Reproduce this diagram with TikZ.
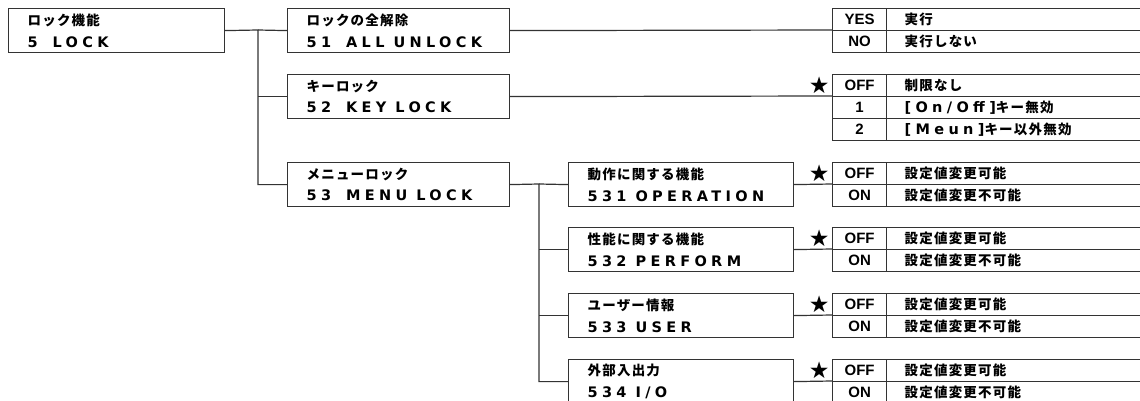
\documentclass[tikz,border=0pt]{standalone}
\usepackage{fontspec}
\usetikzlibrary{positioning}
\newfontfamily\jpfont{Noto Sans CJK JP}[LetterSpace=9]
\newfontfamily\codefont{DejaVu Sans}[LetterSpace=30]
\newfontfamily\keyfont{Liberation Sans}
\newfontfamily\symfont{DejaVu Sans}
\newcommand{\jp}{\fontsize{13.5}{21.5}\selectfont\jpfont\bfseries}
\newcommand{\code}{\fontsize{14.5}{21.5}\selectfont\codefont\bfseries\spaceskip=9pt}
\newcommand{\keyf}{\fontsize{15}{16}\selectfont\keyfont\bfseries}
\newcommand{\gap}{\hspace{6pt}}

\begin{document}
\begin{tikzpicture}[x=1pt,y=-1pt,line width=1.2pt,
  box/.style={draw=black!80,anchor=north west,minimum height=44,inner xsep=19,inner ysep=0,align=left,font=\jp},
  key/.style={draw=black!80,anchor=north west,minimum width=54,minimum height=22,inner sep=0,font=\keyf},
  val/.style={draw=black!80,anchor=north west,minimum height=22,inner xsep=18,inner ysep=0,text width=240,align=left,font=\jp},
  starmark/.style={inner sep=0,font=\fontsize{23}{23}\selectfont\symfont},
  wire/.style={draw=black!80}]
  \useasboundingbox (0,0) rectangle (1140,401);
  \clip (0,0) rectangle (1140,401);
  % menu boxes
  \node[box,text width=178] (lock) at (8,8) {ロック機能\\{\code 5\gap{} LOCK}};
  \node[box,text width=184] (unlock) at (287,8) {ロックの全解除\\{\code 51\gap{} ALL UNLOCK}};
  \node[box,text width=184] (keylock) at (287,74) {キーロック\\{\code 52\gap{} KEY LOCK}};
  \node[box,text width=184] (menulock) at (287,162) {メニューロック\\{\code 53\gap{} MENU LOCK}};
  \node[box,text width=187] (oper) at (568,162) {動作に関する機能\\{\code 531 OPERATION}};
  \node[box,text width=187] (perf) at (568,227) {性能に関する機能\\{\code 532 PERFORM}};
  \node[box,text width=187] (user) at (568,293) {ユーザー情報\\{\code 533 USER}};
  \node[box,text width=187] (io) at (568,359) {外部入出力\\{\code 534 I/O}};
  % settings tables
  \node[key] (unlockyes) at (832,8) {YES};
  \node[val] (unlockyesv) at (886,8) {実行};
  \node[key] (unlockno) at (832,30) {NO};
  \node[val] (unlocknov) at (886,30) {実行しない};
  \node[key] (keyoff) at (832,74) {OFF};
  \node[val] (keyoffv) at (886,74) {制限なし};
  \node[key] (keyone) at (832,96) {1};
  \node[val] (keyonev) at (886,96) {{\code [On/Off]}キー無効};
  \node[key] (keytwo) at (832,118) {2};
  \node[val] (keytwov) at (886,118) {{\code [Meun]}キー以外無効};
  \node[key] (operoff) at (832,162) {OFF};
  \node[val] (operoffv) at (886,162) {設定値変更可能};
  \node[key] (operon) at (832,184) {ON};
  \node[val] (operonv) at (886,184) {設定値変更不可能};
  \node[key] (perfoff) at (832,227) {OFF};
  \node[val] (perfoffv) at (886,227) {設定値変更可能};
  \node[key] (perfon) at (832,249) {ON};
  \node[val] (perfonv) at (886,249) {設定値変更不可能};
  \node[key] (useroff) at (832,293) {OFF};
  \node[val] (useroffv) at (886,293) {設定値変更可能};
  \node[key] (useron) at (832,315) {ON};
  \node[val] (useronv) at (886,315) {設定値変更不可能};
  \node[key] (iooff) at (832,359) {OFF};
  \node[val] (iooffv) at (886,359) {設定値変更可能};
  \node[key] (ioon) at (832,381) {ON};
  \node[val] (ioonv) at (886,381) {設定値変更不可能};
  % default marks
  \node[starmark,left=2pt of keyoff] (keystar) {★};
  \node[starmark,left=2pt of operoff] (operstar) {★};
  \node[starmark,left=2pt of perfoff] (perfstar) {★};
  \node[starmark,left=2pt of useroff] (userstar) {★};
  \node[starmark,left=2pt of iooff] (iostar) {★};
  % tree lines
  \coordinate (trunk) at (258,30);
  \draw[wire] (lock.east) -- (trunk) |- (menulock.west);
  \draw[wire] (trunk) -- (unlock.west);
  \draw[wire] (trunk |- keylock.west) -- (keylock.west);
  \draw[wire] (unlock.east) -- (unlockno.north west);
  \draw[wire] (keylock.east) -- (keyone.north west);
  \coordinate (subtrunk) at (539,184);
  \draw[wire] (menulock.east) -- (subtrunk) |- (io.west);
  \draw[wire] (subtrunk) -- (oper.west);
  \draw[wire] (subtrunk |- perf.west) -- (perf.west);
  \draw[wire] (subtrunk |- user.west) -- (user.west);
  \draw[wire] (oper.east) -- (operon.north west);
  \draw[wire] (perf.east) -- (perfon.north west);
  \draw[wire] (user.east) -- (useron.north west);
  \draw[wire] (io.east) -- (ioon.north west);
\end{tikzpicture}
\end{document}
